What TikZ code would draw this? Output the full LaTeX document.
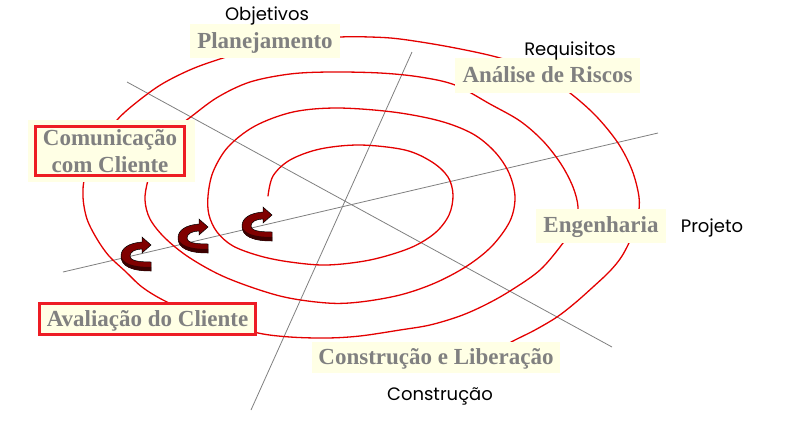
\documentclass[tikz,border=0pt]{standalone}
\usepackage{fontspec}
\setmainfont{Liberation Serif}
\newfontfamily\gothic{Poppins}
\definecolor{spiralred}{RGB}{228,0,0}
\definecolor{boxred}{RGB}{237,28,36}
\definecolor{paleyellow}{RGB}{255,255,229}
\definecolor{labelgray}{RGB}{128,128,128}
\definecolor{axisgray}{RGB}{128,128,128}
\definecolor{arrowred}{RGB}{128,0,0}
\definecolor{arrowdark}{RGB}{60,0,0}
\begin{document}
\begin{tikzpicture}[x=1pt,y=-1pt,
  phase/.style={fill=paleyellow, text=labelgray, font=\fontsize{23}{27}\selectfont\bfseries, inner sep=0pt, text height=16pt, text depth=2pt},
  framed/.style={phase, draw=boxred, line width=3pt},
  axis/.style={draw=axisgray, line width=0.8pt},
  quad/.style={font=\gothic\fontsize{18}{22}\selectfont, inner sep=0pt, anchor=base},
  spiral/.style={draw=spiralred, line width=1.3pt, line join=round, line cap=round},
  curlarrow/.pic={
    \filldraw[fill=arrowred, draw=black, line width=0.5pt]
      (30,26) -- (30,35) .. controls (10,35) and (0,30) .. (0,20)
      .. controls (0,12) and (8,7) .. (21,6) -- (21,1) -- (30,9) -- (21,17) -- (21,13)
      .. controls (14,13) and (9,16) .. (9,20) .. controls (9,24) and (15,26) .. (30,26) -- cycle;
    \fill[arrowdark] (30,31) -- (30,35) .. controls (10,35) and (0,30) .. (0,20)
      .. controls (2,27) and (10,31) .. (30,31) -- cycle;
  }
]
\useasboundingbox (0,0) rectangle (792,426);
\fill[white] (0,0) rectangle (792,426);

% axes
\coordinate (a1) at (127,82);  \coordinate (a2) at (612,347);
\coordinate (b1) at (412,52);  \coordinate (b2) at (251,410);
\coordinate (c1) at (63,272);  \coordinate (c2) at (658,133);
\draw[axis] (a1) -- (a2);
\draw[axis] (b1) -- (b2);
\draw[axis] (c1) -- (c2);

% spiral
\draw[spiral] plot[smooth, tension=0.55] coordinates {
(268,196) (273,176) (290,160) (320,149) (360,145) (405,150) (432,162) (448,177) (453,195)
(449,215) (435,233) (410,248) (370,260) (327,265) (290,262) (260,256) (233,246) (217,232)
(209,215) (208,196) (213,172) (228,147) (255,126) (293,112) (337,108) (393,112) (440,121) (473,134)
(495,152) (509,173) (515,197) (510,221) (492,246) (467,266) (435,283) (400,295) (360,302) (327,303)
(280,296) (227,278) (190,258) (165,238) (150,219) (145,200) (148,180) (157,152) (172,132) (192,116)
(218,97) (250,82) (290,74) (330,72) (380,73) (420,77) (455,85) (490,104) (520,121)
(543,141) (561,164) (573,187) (578,207) (575,224) (563,243) (540,270) (510,291) (485,305) (460,316)
(430,325) (400,330) (360,336) (327,338) (290,337) (258,333) (220,322) (190,312) (163,300) (142,287)
(125,271) (109,256) (97,239) (87,219) (83,197) (85,176) (96,148) (117,120) (137,102) (162,84)
(192,69) (223,58) (260,47) (300,40) (340,37) (370,37) (400,39) (450,47) (500,58) (540,73)
(570,93) (596,116) (618,143) (632,170) (639,197) (638,216) (632,236) (622,256) (610,271) (593,287)
(575,303) (557,317) (535,330) (515,340) (500,348)};

% phase labels
\node[phase, minimum width=150pt, minimum height=34pt] (plan) at (265,41) {Planejamento};
\node[phase, minimum width=185pt, minimum height=35pt] (risk) at (547.5,75.5) {Análise de Riscos};
\node[phase, minimum width=130pt, minimum height=34pt] (eng) at (601,225.5) {Engenharia};
\node[phase, minimum width=248pt, minimum height=31pt] (build) at (436,357.5) {Construção e Liberação};
\node[fill=paleyellow, inner sep=0pt, minimum width=167pt, minimum height=62pt] (combg) at (111.5,151) {};
\node[framed, text height=, text depth=, align=center, minimum width=149pt, minimum height=49pt] (comm) at (110,151) {Comunicação\\com Cliente};
\node[framed, minimum width=216pt, minimum height=31pt] (eval) at (147.5,319) {Avaliação do Cliente};

% quadrant labels
\node[quad] (obj) at (267,20) {Objetivos};
\node[quad] (req) at (570,55) {Requisitos};
\node[quad] (proj) at (712,232) {Projeto};
\node[quad] (cons) at (440,400) {Construção};

% curled arrows
\pic at (121,236) {curlarrow};
\pic at (178,218) {curlarrow};
\pic at (242,206) {curlarrow};
\end{tikzpicture}
\end{document}
